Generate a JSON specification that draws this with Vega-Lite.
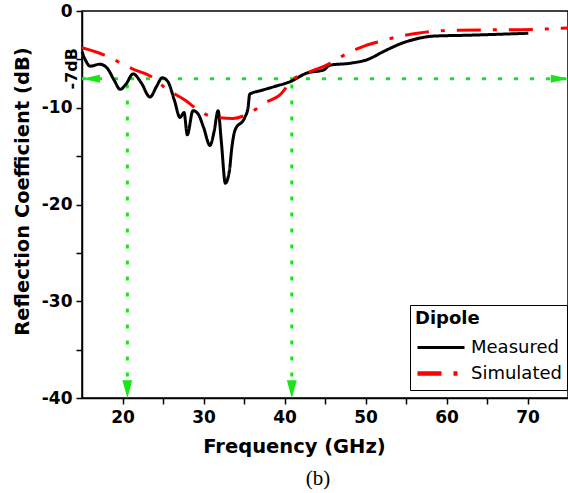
{
  "$schema": "https://vega.github.io/schema/vega-lite/v6.json",
  "autosize": "none",
  "width": 486,
  "height": 387,
  "padding": {"left": 82, "top": 11, "right": 0, "bottom": 95},
  "background": "white",
  "config": {
    "view": {"stroke": "black", "strokeWidth": 1.5},
    "font": "DejaVu Sans",
    "axis": {
      "grid": false, "domainColor": "black", "domainWidth": 1.5,
      "tickColor": "black", "tickWidth": 1.5, "tickSize": 6,
      "labelColor": "black", "labelFont": "DejaVu Sans", "labelFontWeight": "bold", "labelFontSize": 17,
      "titleColor": "black", "titleFont": "DejaVu Sans", "titleFontWeight": "bold", "titleFontSize": 19.5
    },
    "legend": {
      "strokeColor": "black", "fillColor": "white", "padding": 5,
      "titleFont": "DejaVu Sans", "titleFontWeight": "bold", "titleFontSize": 18, "titleColor": "black", "titlePadding": 8,
      "labelFont": "DejaVu Sans", "labelFontSize": 18, "labelColor": "black",
      "symbolType": "stroke", "symbolSize": 2209, "symbolStrokeWidth": 3.5,
      "labelOffset": 4, "rowPadding": 3, "clipHeight": 23
    }
  },
  "title": {"text": "(b)", "orient": "bottom", "font": "Liberation Serif", "fontSize": 21, "fontWeight": "normal", "color": "black", "offset": 12, "dx": -7},
  "datasets": {
    "curves": [
      {"f": 15.0, "db": -4.2, "series": "Measured"},
      {"f": 15.5, "db": -5.2, "series": "Measured"},
      {"f": 16.0, "db": -5.7, "series": "Measured"},
      {"f": 17.2, "db": -5.5, "series": "Measured"},
      {"f": 18.1, "db": -5.9, "series": "Measured"},
      {"f": 19.0, "db": -7.2, "series": "Measured"},
      {"f": 19.7, "db": -8.1, "series": "Measured"},
      {"f": 20.4, "db": -7.6, "series": "Measured"},
      {"f": 21.3, "db": -6.5, "series": "Measured"},
      {"f": 22.3, "db": -7.4, "series": "Measured"},
      {"f": 23.4, "db": -8.9, "series": "Measured"},
      {"f": 24.2, "db": -7.8, "series": "Measured"},
      {"f": 24.9, "db": -6.9, "series": "Measured"},
      {"f": 25.6, "db": -7.3, "series": "Measured"},
      {"f": 26.4, "db": -9.2, "series": "Measured"},
      {"f": 27.1, "db": -11.0, "series": "Measured"},
      {"f": 27.6, "db": -10.5, "series": "Measured"},
      {"f": 28.0, "db": -12.8, "series": "Measured"},
      {"f": 28.7, "db": -10.3, "series": "Measured"},
      {"f": 29.3, "db": -10.6, "series": "Measured"},
      {"f": 30.0, "db": -12.0, "series": "Measured"},
      {"f": 30.8, "db": -13.9, "series": "Measured"},
      {"f": 31.3, "db": -12.5, "series": "Measured"},
      {"f": 31.8, "db": -10.3, "series": "Measured"},
      {"f": 32.2, "db": -13.5, "series": "Measured"},
      {"f": 32.7, "db": -17.8, "series": "Measured"},
      {"f": 33.2, "db": -16.5, "series": "Measured"},
      {"f": 33.5, "db": -14.1, "series": "Measured"},
      {"f": 33.9, "db": -12.3, "series": "Measured"},
      {"f": 35.1, "db": -11.0, "series": "Measured"},
      {"f": 35.5, "db": -10.0, "series": "Measured"},
      {"f": 35.7, "db": -8.6, "series": "Measured"},
      {"f": 37.2, "db": -8.2, "series": "Measured"},
      {"f": 38.8, "db": -7.8, "series": "Measured"},
      {"f": 40.7, "db": -7.3, "series": "Measured"},
      {"f": 42.8, "db": -6.4, "series": "Measured"},
      {"f": 44.8, "db": -6.1, "series": "Measured"},
      {"f": 45.6, "db": -5.6, "series": "Measured"},
      {"f": 48.1, "db": -5.4, "series": "Measured"},
      {"f": 50.3, "db": -5.0, "series": "Measured"},
      {"f": 52.2, "db": -4.2, "series": "Measured"},
      {"f": 54.6, "db": -3.3, "series": "Measured"},
      {"f": 56.7, "db": -2.8, "series": "Measured"},
      {"f": 58.3, "db": -2.6, "series": "Measured"},
      {"f": 62.9, "db": -2.5, "series": "Measured"},
      {"f": 70.1, "db": -2.3, "series": "Measured"},
      {"f": 15.0, "db": -3.8, "series": "Simulated"},
      {"f": 17.6, "db": -4.5, "series": "Simulated"},
      {"f": 19.6, "db": -5.3, "series": "Simulated"},
      {"f": 21.3, "db": -6.0, "series": "Simulated"},
      {"f": 23.6, "db": -6.8, "series": "Simulated"},
      {"f": 25.5, "db": -8.1, "series": "Simulated"},
      {"f": 27.7, "db": -9.2, "series": "Simulated"},
      {"f": 29.3, "db": -10.2, "series": "Simulated"},
      {"f": 31.4, "db": -11.0, "series": "Simulated"},
      {"f": 33.6, "db": -11.1, "series": "Simulated"},
      {"f": 36.0, "db": -10.4, "series": "Simulated"},
      {"f": 37.6, "db": -9.5, "series": "Simulated"},
      {"f": 39.4, "db": -8.7, "series": "Simulated"},
      {"f": 41.0, "db": -7.1, "series": "Simulated"},
      {"f": 43.1, "db": -6.3, "series": "Simulated"},
      {"f": 45.2, "db": -5.6, "series": "Simulated"},
      {"f": 47.7, "db": -4.4, "series": "Simulated"},
      {"f": 49.6, "db": -3.7, "series": "Simulated"},
      {"f": 51.5, "db": -3.2, "series": "Simulated"},
      {"f": 54.3, "db": -2.6, "series": "Simulated"},
      {"f": 56.4, "db": -2.3, "series": "Simulated"},
      {"f": 58.3, "db": -2.1, "series": "Simulated"},
      {"f": 61.0, "db": -2.0, "series": "Simulated"},
      {"f": 65.4, "db": -1.95, "series": "Simulated"},
      {"f": 68.1, "db": -1.95, "series": "Simulated"},
      {"f": 72.4, "db": -1.85, "series": "Simulated"},
      {"f": 75.0, "db": -1.75, "series": "Simulated"}
    ],
    "guides": [
      {"gx": 15, "gy": -7, "g": "h"},
      {"gx": 75, "gy": -7, "g": "h"},
      {"gx": 20.6, "gy": -7.6, "g": "v1"},
      {"gx": 20.6, "gy": -39, "g": "v1"},
      {"gx": 40.9, "gy": -7.6, "g": "v2"},
      {"gx": 40.9, "gy": -39, "g": "v2"}
    ],
    "arrows": [
      {"ax": 16.1, "ay": -7, "dir": "left"},
      {"ax": 74.0, "ay": -7, "dir": "right"},
      {"ax": 20.6, "ay": -39.1, "dir": "down"},
      {"ax": 40.9, "ay": -39.1, "dir": "down"}
    ],
    "notes": [
      {"nx": 15, "ny": -7, "label": "-7dB"}
    ]
  },
  "layer": [
    {
      "data": {"name": "guides"},
      "mark": {"type": "line", "color": "#19e619", "strokeWidth": 3, "strokeDash": [4, 12], "clip": true},
      "encoding": {
        "x": {"field": "gx", "type": "quantitative", "scale": {"domain": [15, 75], "nice": false, "zero": false},
          "axis": {"values": [20, 25, 30, 35, 40, 45, 50, 55, 60, 65, 70], "labelExpr": "datum.value % 10 === 0 ? toString(datum.value) : ''", "title": "Frequency (GHz)", "titleX": 212, "titleY": 54, "titleBaseline": "alphabetic", "titleAnchor": "middle", "labelPadding": 5}},
        "y": {"field": "gy", "type": "quantitative", "scale": {"domain": [-40, 0], "nice": false, "zero": false},
          "axis": {"values": [-40, -35, -30, -25, -20, -15, -10, -5, 0], "labelExpr": "datum.value % 10 === 0 ? toString(datum.value) : ''", "title": "Reflection Coefficient (dB)", "titleX": -60, "titleY": 180, "titleAngle": 270, "titleBaseline": "middle", "titleAnchor": "middle", "labelPadding": 4}},
        "detail": {"field": "g", "type": "nominal"}
      }
    },
    {
      "data": {"name": "arrows"},
      "mark": {"type": "point", "filled": true, "color": "#19e619", "opacity": 1, "size": 324},
      "encoding": {
        "x": {"field": "ax", "type": "quantitative"},
        "y": {"field": "ay", "type": "quantitative"},
        "shape": {"field": "dir", "type": "nominal", "legend": null,
          "scale": {"domain": ["left", "right", "down"], "range": ["M-1,0L1,-0.45L1,0.45Z", "M1,0L-1,-0.45L-1,0.45Z", "M0,1L-0.55,-1L0.55,-1Z"]}}
      }
    },
    {
      "data": {"name": "notes"},
      "mark": {"type": "text", "angle": 270, "align": "center", "baseline": "middle", "dx": 10, "dy": -10, "font": "DejaVu Sans", "fontWeight": "bold", "fontSize": 16, "color": "black"},
      "encoding": {
        "x": {"field": "nx", "type": "quantitative"},
        "y": {"field": "ny", "type": "quantitative"},
        "text": {"field": "label", "type": "nominal"}
      }
    },
    {
      "data": {"name": "curves"},
      "mark": {"type": "line", "strokeWidth": 3, "interpolate": "monotone"},
      "encoding": {
        "x": {"field": "f", "type": "quantitative"},
        "y": {"field": "db", "type": "quantitative"},
        "color": {"field": "series", "type": "nominal", "title": "Dipole",
          "scale": {"domain": ["Measured", "Simulated"], "range": ["black", "#ff0000"]},
          "legend": {"orient": "none", "legendX": 328, "legendY": 294}},
        "strokeDash": {"field": "series", "type": "nominal", "title": "Dipole",
          "scale": {"domain": ["Measured", "Simulated"], "range": [[1, 0], [24, 12, 4, 12]]},
          "legend": {"orient": "none", "legendX": 328, "legendY": 294}},
        "strokeWidth": {"field": "series", "type": "nominal", "legend": null,
          "scale": {"domain": ["Measured", "Simulated"], "range": [3, 4.5]}}
      }
    }
  ]
}
